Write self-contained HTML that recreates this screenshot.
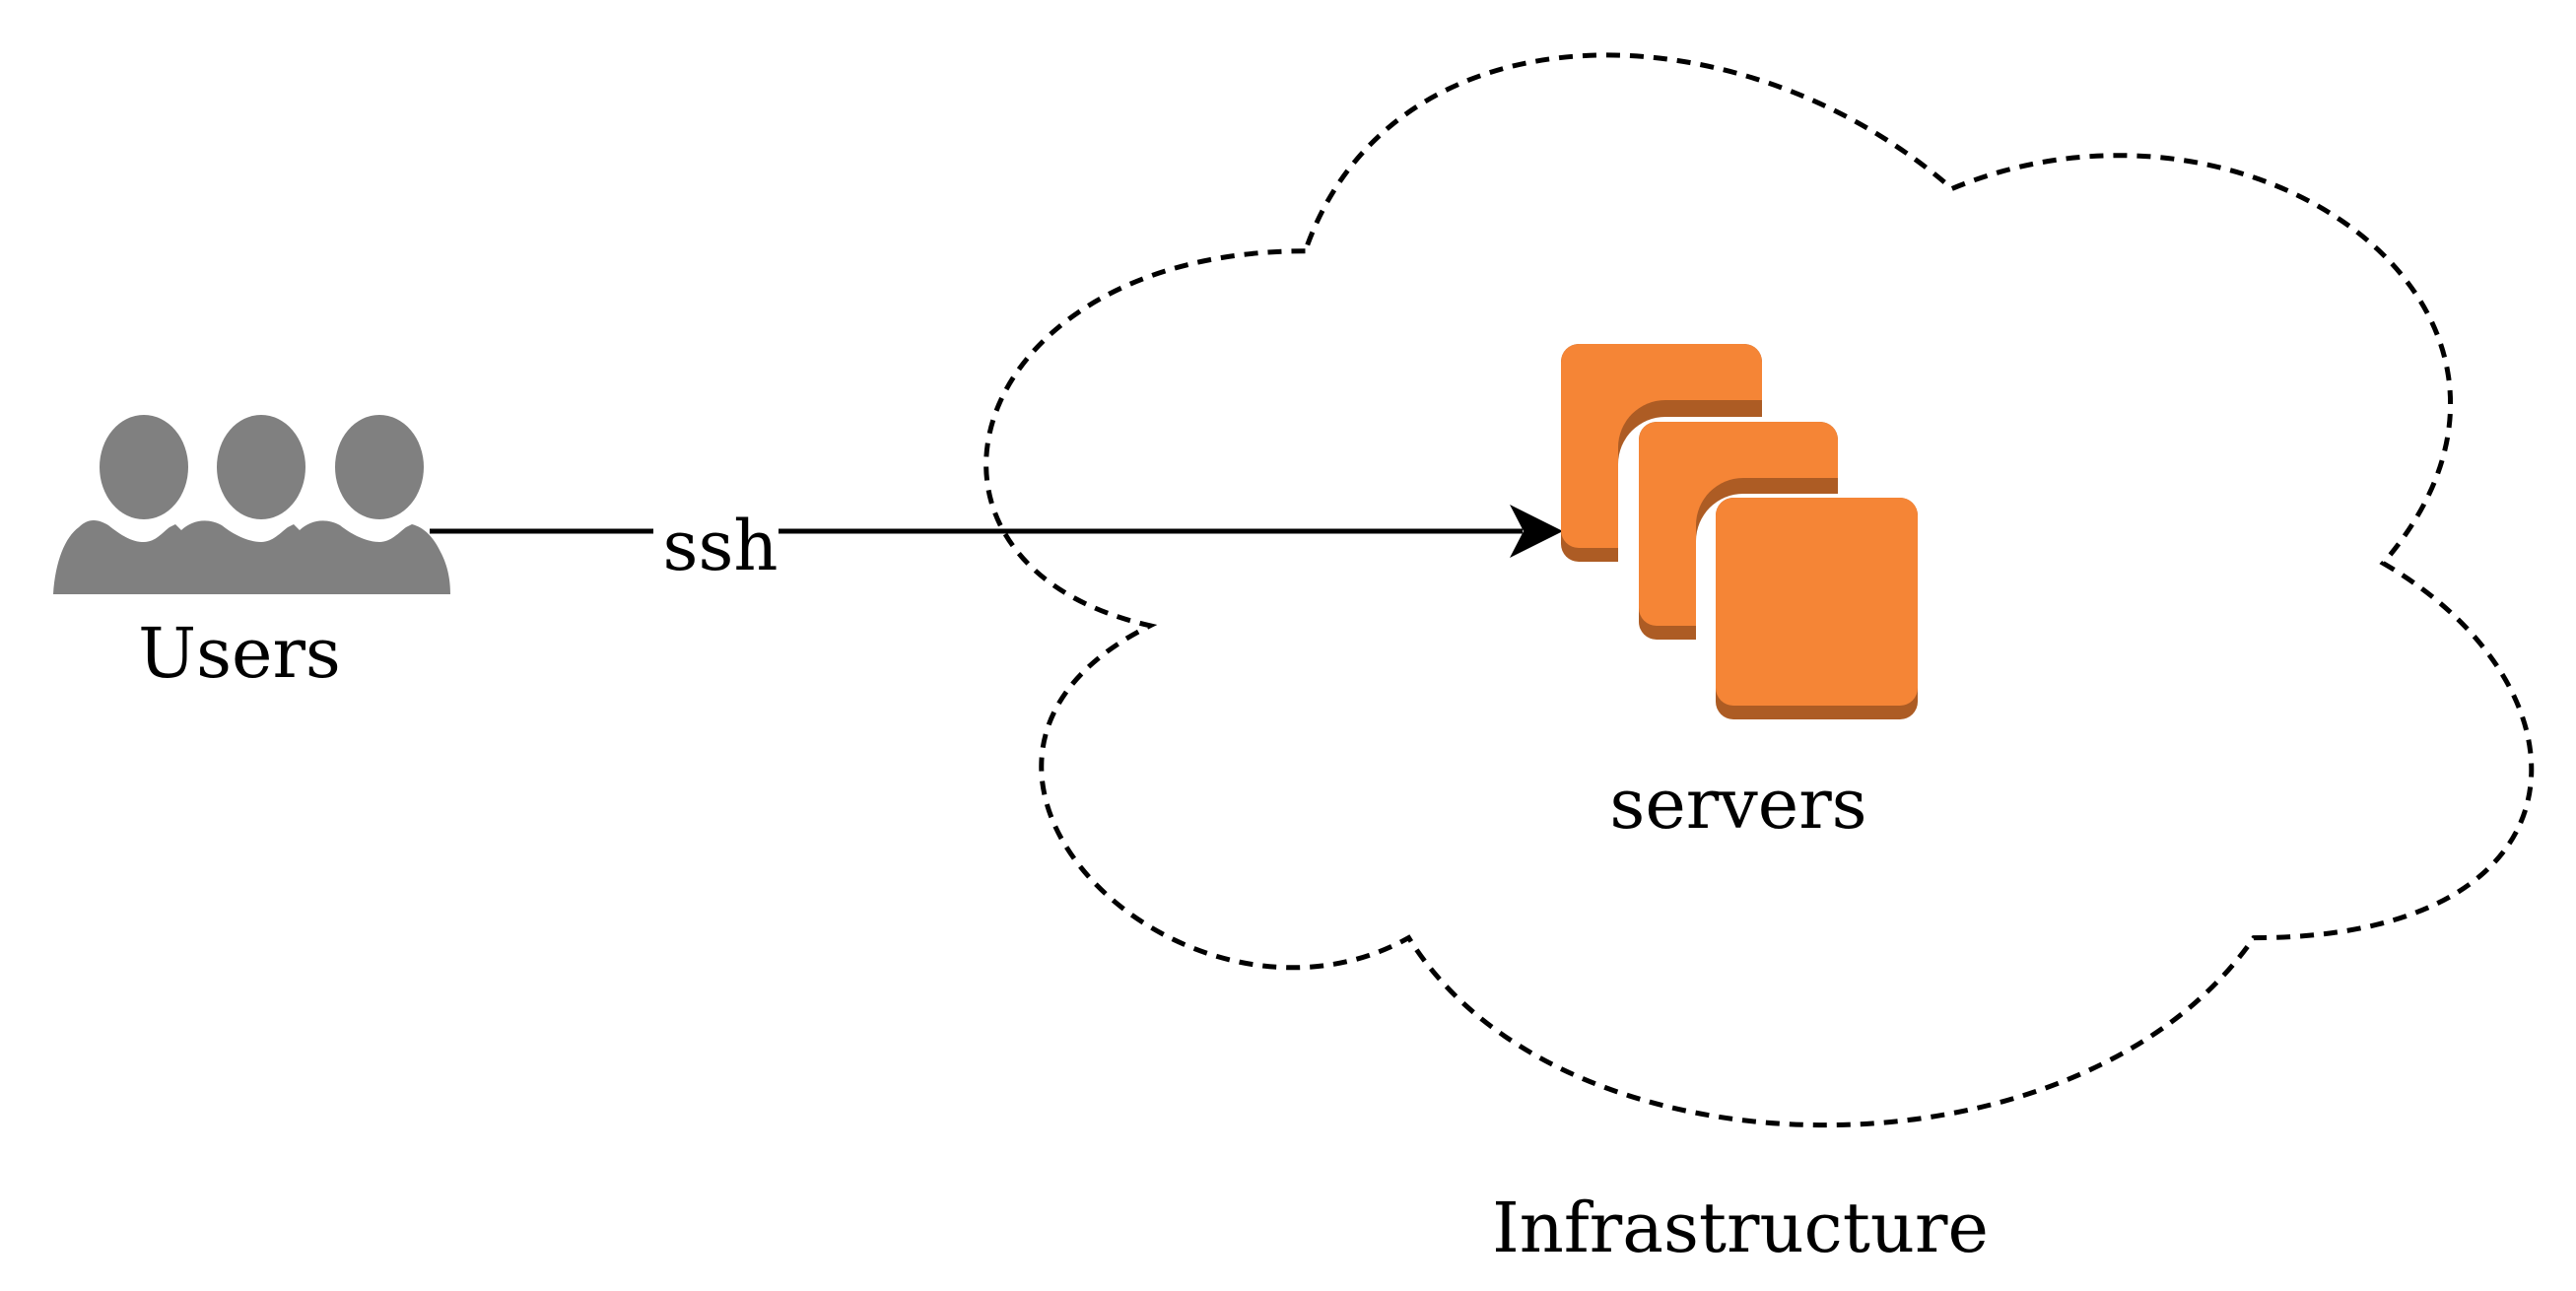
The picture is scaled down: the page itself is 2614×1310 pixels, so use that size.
<!DOCTYPE html>
<html><head><meta charset="utf-8"><style>
html,body{margin:0;padding:0;background:#fff;}
svg{display:block;}
text{font-family:"DejaVu Serif","Liberation Serif",serif;font-size:70px;fill:#000;}
</style></head><body>
<svg width="2614" height="1310" viewBox="0 0 2614 1310" xmlns="http://www.w3.org/2000/svg">
<defs>
<clipPath id="c1"><rect x="1584" y="349" width="204" height="221" rx="18"/></clipPath>
<clipPath id="c2"><rect x="1663" y="428" width="202" height="221" rx="18"/></clipPath>
</defs>
<!-- cloud -->
<path d="M1324.5,254.75 C974.5,254.75 887,571.5 1167,634.85 C887,774.2 1202,1078.3 1429.5,951.6 C1587,1205 2112,1205 2287,951.6 C2637,951.6 2637,698.2 2418.3,571.5 C2637,318.1 2287,64.7 1980.8,191.4 C1762,1.35 1412,1.35 1324.5,254.75 Z" fill="none" stroke="#000" stroke-width="5" stroke-dasharray="14 10"/>
<!-- users -->
<ellipse cx="146" cy="474" rx="45" ry="53" fill="#808080"/>
<ellipse cx="265" cy="474" rx="45" ry="53" fill="#808080"/>
<ellipse cx="385" cy="474" rx="45" ry="53" fill="#808080"/>
<path d="M54,603 C56,570 66,545 80,535 C90,525 100,527 110,533 C125,545 135,550 146,550 C158,550 165,540 172,535 L178,532 184,538 C195,528 210,525 225,533 C240,545 255,550 265,550 C277,550 285,540 292,535 L298,532 304,538 C315,528 330,525 345,533 C360,545 375,550 385,550 C397,550 405,540 412,535 L418,532 C430,535 440,545 447,560 C455,575 457,590 457,603 Z" fill="#808080"/>
<text x="243" y="687" text-anchor="middle">Users</text>
<!-- connector -->
<line x1="436" y1="539" x2="1545" y2="539" stroke="#000" stroke-width="5"/>
<rect x="663" y="505" width="127" height="85" fill="#fff"/>
<text x="731" y="578" text-anchor="middle">ssh</text>
<path d="M1586,539 L1532,566 L1546,539 L1532,512 Z" fill="#000"/>
<!-- servers -->
<g clip-path="url(#c1)">
<rect x="1584" y="349" width="204" height="221" fill="#AD5C24"/>
<rect x="1584" y="349" width="204" height="207" rx="18" fill="#F58536"/>
<rect x="1642" y="406" width="300" height="300" rx="48" fill="#AD5C24"/>
<rect x="1642" y="423" width="300" height="300" rx="48" fill="#fff"/>
</g>
<g clip-path="url(#c2)">
<rect x="1663" y="428" width="202" height="221" fill="#AD5C24"/>
<rect x="1663" y="428" width="202" height="207" rx="18" fill="#F58536"/>
<rect x="1721" y="485" width="300" height="300" rx="48" fill="#AD5C24"/>
<rect x="1721" y="501" width="300" height="300" rx="48" fill="#fff"/>
</g>
<rect x="1741" y="505" width="205" height="225" rx="18" fill="#AD5C24"/>
<rect x="1741" y="505" width="205" height="211" rx="18" fill="#F58536"/>
<text x="1764" y="840" text-anchor="middle">servers</text>
<text x="1766" y="1270" text-anchor="middle">Infrastructure</text>
</svg>
</body></html>
